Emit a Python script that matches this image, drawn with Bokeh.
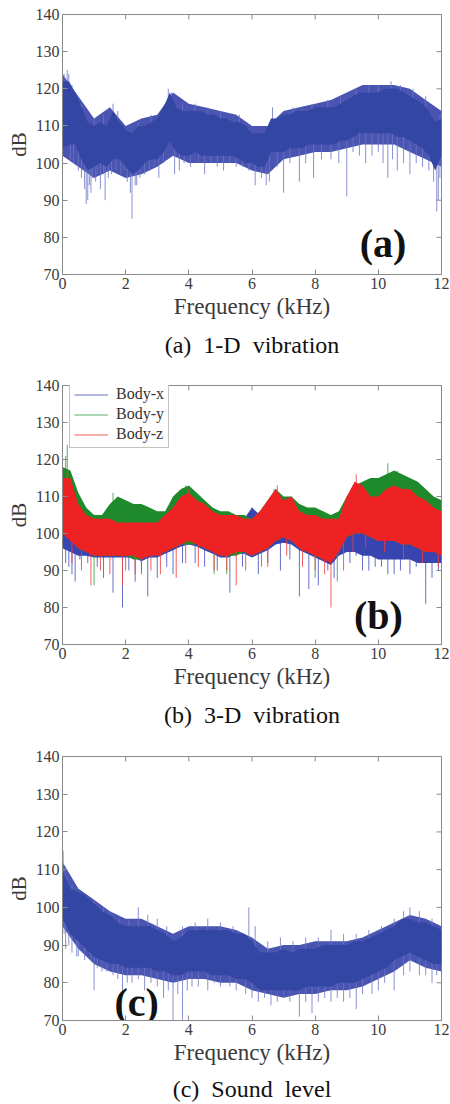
import numpy as np
from bokeh.plotting import figure
from bokeh.models import Legend, LegendItem, FixedTicker, Range1d, LinearAxis
from bokeh.layouts import column
from bokeh.core.properties import value
from bokeh.embed import file_html
from bokeh.resources import INLINE

SERIF = "Liberation Serif"

# ---------------- data ----------------
X_TICKS = [0, 2, 4, 6, 8, 10, 12]
Y_TICKS = [70, 80, 90, 100, 110, 120, 130, 140]

# Panel (a): 1-D vibration, dense core envelope every 0.2 kHz
fa = [0, 0.2, 0.4, 0.6, 0.8, 1.0, 1.2, 1.4, 1.6, 1.8, 2.0, 2.2, 2.4, 2.6, 2.8, 3.0, 3.2, 3.4, 3.6, 3.8,
      4.0, 4.2, 4.4, 4.6, 4.8, 5.0, 5.2, 5.4, 5.6, 5.8, 6.0, 6.2, 6.4, 6.6, 6.8, 7.0, 7.2, 7.4, 7.6, 7.8,
      8.0, 8.2, 8.4, 8.6, 8.8, 9.0, 9.2, 9.4, 9.6, 9.8, 10.0, 10.2, 10.4, 10.6, 10.8, 11.0, 11.2, 11.4,
      11.6, 11.8, 12.0]
a_upper = [122, 122, 119, 115, 111, 110, 111, 110, 114, 111, 109, 108, 110, 110, 111, 112, 115, 119, 115, 114,
           114, 114, 114, 113, 113, 112, 112, 111, 111, 110, 108, 108, 108, 112, 112, 113, 113, 114, 114, 114,
           115, 115, 115, 115, 116, 117, 118, 119, 119, 119, 119, 120, 120, 120, 119, 118, 117, 116, 114, 111, 112]
a_lower = [104, 105, 105, 101, 98, 99, 100, 99, 101, 101, 99, 97, 98, 100, 101, 101, 103, 106, 103, 102,
           102, 103, 102, 102, 102, 102, 102, 102, 101, 100, 100, 99, 99, 103, 103, 103, 104, 104, 104, 105,
           105, 105, 105, 105, 106, 106, 107, 108, 108, 108, 108, 108, 108, 107, 107, 106, 105, 104, 102, 98, 102]
# lighter fringe, every 0.5 kHz
fo = [0, 0.5, 1.0, 1.5, 2.0, 2.5, 3.0, 3.5, 4.0, 4.5, 5.0, 5.5, 6.0, 6.5, 7.0, 7.5, 8.0, 8.5, 9.0, 9.5,
      10.0, 10.5, 11.0, 11.5, 12.0]
a_outer_hi = [124, 118, 112, 115, 110, 112, 113, 119, 116, 115, 114, 113, 110, 110, 114, 115, 116, 117, 119, 121,
              121, 121, 120, 117, 114]
a_outer_lo = [102, 99, 96, 98, 96, 97, 99, 102, 100, 100, 100, 100, 98, 97, 101, 102, 103, 103, 104, 105,
              105, 105, 103, 101, 99]
a_down_f = [0.25, 0.35, 0.5, 0.6, 0.7, 0.75, 0.8, 0.85, 0.9, 0.95, 1.05, 1.1, 1.2, 1.3, 1.35, 1.45, 1.55, 1.7,
            1.85, 1.95, 2.05, 2.15, 2.2, 2.3, 2.35, 2.45, 2.6, 2.75, 2.9, 3.05, 3.2, 3.55, 3.7, 3.85, 4.05,
            4.3, 4.5, 4.7, 4.9, 5.1, 5.3, 5.5, 5.7, 5.9, 6.1, 6.3, 6.45, 6.55, 6.8, 7.0, 7.2, 7.5, 7.7, 7.95,
            8.2, 8.5, 8.75, 9.0, 9.2, 9.4, 9.6, 9.8, 10.0, 10.15, 10.3, 10.45, 10.6, 10.8, 11.0, 11.2, 11.4,
            11.6, 11.75, 11.85, 11.9, 11.95]
a_down_db = [101, 100, 98, 96, 93, 89, 90, 94, 92, 96, 95, 97, 93, 97, 90, 96, 97, 98,
             97, 98, 95, 92, 85, 94, 94, 96, 97, 98, 99, 96, 100, 97, 98, 100, 99,
             100, 97, 100, 99, 98, 100, 99, 99, 98, 94, 96, 94, 95, 99, 92, 100, 95, 100, 96,
             101, 101, 100, 91, 103, 102, 100, 102, 103, 100, 96, 101, 98, 100, 97, 100, 99,
             98, 95, 87, 90, 96]
a_up_f = [0.05, 0.15, 0.2, 0.3, 0.45, 0.6, 1.0, 1.3, 1.6, 1.75, 2.4, 2.8, 3.35, 3.45, 3.8, 4.2, 4.6, 5.0,
          5.6, 6.65, 7.3, 7.9, 8.4, 8.8, 9.3, 9.7, 10.0, 10.4, 10.7, 11.1, 11.5, 11.95]
a_up_db = [124, 125, 124, 121, 118, 116, 112, 113, 116, 114, 111, 113, 120, 119, 116, 116, 115, 114,
           113, 115, 115, 116, 117, 118, 120, 121, 121, 122, 121, 120, 118, 113]

# Panel (b): 3-D vibration, envelopes every 0.25 kHz
fb = [0, 0.25, 0.5, 0.75, 1.0, 1.25, 1.5, 1.75, 2.0, 2.25, 2.5, 2.75, 3.0, 3.25, 3.5, 3.75, 4.0, 4.25, 4.5,
      4.75, 5.0, 5.25, 5.5, 5.75, 6.0, 6.25, 6.5, 6.75, 7.0, 7.25, 7.5, 7.75, 8.0, 8.25, 8.5, 8.75, 9.0,
      9.25, 9.5, 9.75, 10.0, 10.25, 10.5, 10.75, 11.0, 11.25, 11.5, 11.75, 12.0]
bx_upper = [111, 112, 106, 103, 102, 102, 102, 102, 102, 101, 101, 102, 102, 103, 105, 108, 109, 107, 106,
            105, 104, 104, 104, 104, 107, 105, 107, 109, 107, 108, 108, 106, 104, 103, 102, 102, 104,
            106, 106, 105, 105, 106, 106, 106, 105, 105, 104, 103, 102]
bx_lower = [96, 95, 94, 94, 93.5, 93.5, 93.5, 93.5, 93.5, 93.5, 92.5, 93.5, 93.5, 94.5, 95.5, 96.5, 97, 96.5, 95.5,
            94.5, 93.5, 93.5, 94.5, 94.5, 93.5, 94.5, 95.5, 97, 97.5, 97, 95.5, 94.5, 93.5, 92.5, 91.5, 94, 95,
            95, 94, 94, 93, 93, 93, 93, 93, 92, 92, 92, 92]
by_upper = [118, 117, 111, 107, 105, 105, 108, 110, 109, 108, 108, 107, 106, 106, 110, 112, 113, 111, 109,
            107, 106, 106, 105, 105, 104, 106, 109, 112, 110, 110, 108, 107, 107, 106, 105, 106, 110,
            113, 114, 115, 115, 116, 117, 116, 115, 114, 112, 110, 109]
by_lower = [100, 99, 96, 95, 94, 94, 94, 94, 94, 93, 93, 94, 94, 95, 96, 97, 97, 97, 96,
            95, 94, 94, 94, 95, 94, 95, 96, 98, 99, 98, 96, 95, 94, 93, 93, 95, 99,
            100, 100, 99, 98, 98, 98, 97, 97, 96, 95, 95, 95]
bz_upper = [115, 115, 108, 105, 104, 104, 104, 103, 103, 103, 103, 103, 103, 105, 107, 110, 111, 109, 108,
            106, 105, 105, 105, 104, 104, 106, 109, 112, 109, 110, 106, 105, 105, 104, 104, 104, 110,
            114, 113, 110, 110, 112, 113, 112, 112, 110, 109, 107, 106]
bz_lower = [100, 98, 96, 95, 94, 94, 94, 94, 94, 94, 93, 94, 94, 95, 96, 97, 98, 97, 96,
            95, 94, 94, 95, 95, 94, 95, 96, 98, 99, 98, 96, 95, 94, 93, 92, 95, 99,
            100, 100, 99, 98, 98, 98, 97, 97, 96, 95, 95, 94]
bx_spike_f = [0.1, 0.2, 0.3, 0.4, 0.55, 0.8, 1.1, 1.3, 1.6, 1.9, 2.1, 2.3, 2.5, 2.7, 3.0, 3.3, 3.5, 3.8,
              4.2, 4.5, 4.9, 5.3, 5.7, 6.0, 6.2, 6.5, 6.9, 7.2, 7.5, 7.8, 8.1, 8.4, 8.6, 9.1, 9.3, 9.5,
              9.7, 9.9, 10.1, 10.3, 10.5, 10.7, 11.0, 11.2, 11.5, 11.7, 11.9]
bx_spike_db = [92, 91, 89, 87, 93, 92, 91, 88, 84, 80, 90, 87, 90, 83, 88, 91, 89, 92,
               92, 91, 90, 84, 91, 107, 89, 92, 90, 93, 83, 85, 86, 90, 88, 92, 94, 90,
               90, 91, 91, 89, 89, 90, 89, 91, 81, 88, 90]
by_spike_f = [0.1, 0.15, 1.0, 1.6, 3.9, 4.8, 5.2, 6.7, 8.0, 8.7, 10.3, 10.6]
by_spike_db = [121, 124, 86, 111, 113, 89, 89, 112, 88, 87, 119, 117]
bz_spike_f = [0.15, 0.3, 0.6, 0.9, 1.2, 1.5, 1.9, 2.0, 2.3, 2.5, 2.8, 3.1, 3.6, 3.9, 4.0, 4.3, 4.8, 5.2,
              5.5, 5.8, 6.3, 6.5, 6.8, 7.1, 7.6, 8.0, 8.3, 8.5, 8.9, 9.2, 9.3, 9.6, 10.2, 10.8, 11.4, 11.9]
bz_spike_db = [117, 92, 90, 86, 90, 89, 86, 90, 89, 89, 90, 89, 88, 92, 112, 91, 90, 90,
               86, 90, 91, 91, 113, 94, 91, 90, 89, 80, 90, 95, 116, 96, 95, 93, 92, 91]

# Panel (c): sound level, envelopes every 0.25 kHz
fc = fb
c_upper = [110, 105, 104, 103, 101, 99, 98, 96, 95, 95, 95, 95, 94, 93, 91, 92, 94, 94, 94,
           94, 94, 94, 93, 93, 91, 88, 88, 88, 89, 88, 89, 89, 89, 90, 90, 90, 90,
           91, 91, 92, 93, 94, 95, 97, 97, 96, 96, 95, 94]
c_lower = [97, 93, 91, 89, 87, 86, 85, 85, 84, 84, 84, 84, 83, 83, 82, 82, 83, 83, 83,
           82, 82, 82, 81, 81, 80, 78, 78, 78, 78, 78, 78, 79, 79, 79, 79, 80, 80,
           80, 81, 82, 83, 84, 86, 87, 88, 87, 86, 85, 85]
c_outer_hi = [112, 105, 102, 99, 97, 97, 95, 93, 95, 95, 95, 94, 92, 89, 90, 90, 91, 91, 91, 92,
              94, 96, 98, 97, 95]
c_outer_lo = [95, 89, 85, 83, 82, 82, 81, 80, 81, 81, 80, 80, 78, 77, 76, 77, 77, 78, 78, 79,
              81, 83, 86, 84, 83]
c_down_f = [0.05, 0.1, 0.2, 0.3, 0.45, 0.5, 0.7, 0.9, 1.0, 1.1, 1.25, 1.4, 1.6, 1.75, 1.9, 2.05, 2.2, 2.4,
            2.6, 2.8, 3.0, 3.2, 3.35, 3.5, 3.65, 3.8, 3.95, 4.1, 4.3, 4.6, 4.8, 5.0, 5.3, 5.5, 5.8, 6.0,
            6.2, 6.4, 6.6, 6.8, 7.0, 7.2, 7.5, 7.7, 7.9, 8.1, 8.3, 8.5, 8.7, 8.9, 9.1, 9.3, 9.5, 9.8,
            10.0, 10.2, 10.5, 10.8, 11.0, 11.3, 11.5, 11.7, 11.85, 12.0]
c_down_db = [93, 89, 90, 88, 87, 87, 86, 86, 78, 84, 83, 83, 82, 81, 77, 80, 80, 81,
             78, 80, 79, 76, 78, 70, 77, 70, 78, 79, 79, 78, 80, 79, 79, 78, 77, 76,
             75, 76, 74, 75, 76, 75, 71, 75, 72, 75, 76, 75, 76, 75, 76, 73, 77, 77,
             78, 80, 78, 82, 83, 82, 82, 80, 82, 82]
c_up_f = [0.02, 0.08, 0.15, 0.3, 0.5, 0.8, 1.0, 1.3, 1.5, 1.8, 2.1, 2.4, 2.7, 3.0, 3.3, 3.8, 4.2, 4.6,
          5.0, 5.4, 5.9, 6.1, 6.5, 6.9, 7.3, 7.7, 8.1, 8.5, 8.9, 9.3, 9.7, 10.1, 10.5, 10.8, 11.0, 11.3,
          11.7, 12.0]
c_up_db = [115, 111, 108, 106, 104, 103, 102, 100, 99, 97, 97, 100, 98, 97, 95, 95, 96, 97,
           96, 95, 100, 95, 91, 92, 91, 92, 92, 94, 93, 93, 94, 95, 97, 99, 100, 99,
           97, 96]

CAPTIONS = ["(a)\u00a0 1-D\u00a0 vibration",
            "(b)\u00a0 3-D\u00a0 vibration",
            "(c)\u00a0 Sound\u00a0 level"]
LEGEND_LABELS = ["Body-x", "Body-y", "Body-z"]

DARK_BLUE = "#3446a3"
FRINGE_BLUE = "#4955b0"
LIGHT_BLUE = "#6a74c6"
GREEN = "#1f8a2c"
RED = "#ee2222"
FRAME = "#8a8a8a"
TICK_LEN = 5  # px
LEFT, RIGHT = 62, 9
FRAME_W = 450 - LEFT - RIGHT


def make_fig(height, top, bottom, cap_text, cap_standoff):
    p = figure(width=450, height=height, x_range=Range1d(0, 12), y_range=Range1d(70, 140),
               output_backend="svg", toolbar_location=None,
               min_border_left=LEFT, min_border_right=RIGHT, min_border_top=top, min_border_bottom=bottom)
    p.background_fill_color = "white"
    p.outline_line_color = FRAME
    p.grid.visible = False
    for ax, ticks in ((p.xaxis[0], X_TICKS), (p.yaxis[0], Y_TICKS)):
        ax.ticker = FixedTicker(ticks=ticks)
        ax.major_tick_in = TICK_LEN
        ax.major_tick_out = 0
        ax.minor_tick_line_color = None
        ax.axis_line_color = FRAME
        ax.major_tick_line_color = FRAME
        ax.major_label_text_font = SERIF
        ax.major_label_text_font_size = "16px"
        ax.major_label_text_color = "#3a3a3a"
        ax.major_label_standoff = 3
        ax.axis_label_text_font = SERIF
        ax.axis_label_text_font_style = "normal"
        ax.axis_label_text_color = "#3a3a3a"
        ax.axis_label_standoff = 2
    p.xaxis.axis_label = "Frequency (kHz)"
    p.xaxis.axis_label_text_font_size = "23px"
    p.yaxis.axis_label = "dB"
    p.yaxis.axis_label_text_font_size = "21px"
    # caption under the panel: an empty axis that carries only its label
    cap = LinearAxis(ticker=FixedTicker(ticks=[]), axis_line_color=None, major_tick_line_color=None,
                     minor_tick_line_color=None, major_tick_in=0, major_tick_out=0, major_label_standoff=0,
                     axis_label=cap_text, axis_label_standoff=cap_standoff,
                     axis_label_text_font=SERIF, axis_label_text_font_size="24px",
                     axis_label_text_font_style="normal", axis_label_text_color="#111111")
    p.add_layout(cap, "below")
    # inward ticks on the top and right edges (mirror of the bottom/left ticks)
    frame_h = height - top - bottom
    dy = TICK_LEN * 70.0 / frame_h
    dx = TICK_LEN * 12.0 / FRAME_W
    p.segment(x0=X_TICKS, y0=[140] * len(X_TICKS), x1=X_TICKS, y1=[140 - dy] * len(X_TICKS),
              line_color=FRAME, line_width=1)
    p.segment(x0=[12] * len(Y_TICKS), y0=Y_TICKS, x1=[12 - dx] * len(Y_TICKS), y1=Y_TICKS,
              line_color=FRAME, line_width=1)
    return p


def band(p, f, lo, hi, color, alpha=1.0):
    return p.varea(x=f, y1=lo, y2=hi, fill_color=color, fill_alpha=alpha)


def spikes(p, f, tips, lo, hi, fband, color, alpha=0.8):
    mid = (np.interp(f, fband, lo) + np.interp(f, fband, hi)) / 2.0
    return p.segment(x0=f, y0=mid, x1=f, y1=tips, line_color=color, line_width=1, line_alpha=alpha)


def panel_label(p, x, y, text):
    p.text(x=[x], y=[y], text=[text], text_font=value(SERIF), text_font_style="bold",
           text_font_size="40px", text_align="center", text_baseline="middle", text_color="#111111")


# ---- panel (a)
pa = make_fig(360, 14, 84, CAPTIONS[0], 10)
band(pa, fo, a_outer_lo, a_outer_hi, FRINGE_BLUE)
spikes(pa, a_down_f, a_down_db, a_lower, a_upper, fa, LIGHT_BLUE)
spikes(pa, a_up_f, a_up_db, a_lower, a_upper, fa, LIGHT_BLUE)
band(pa, fa, a_lower, a_upper, DARK_BLUE)
panel_label(pa, 10.15, 78.3, "(a)")

# ---- panel (b)
PB_H, PB_TOP, PB_BOTTOM = 370, 25, 84
pb = make_fig(PB_H, PB_TOP, PB_BOTTOM, CAPTIONS[1], 10)
sx = spikes(pb, bx_spike_f, bx_spike_db, bx_lower, bx_upper, fb, "#4a55c0", 0.85)
band(pb, fb, bx_lower, bx_upper, "#3844b0")
sy = spikes(pb, by_spike_f, by_spike_db, by_lower, by_upper, fb, "#3aa04a", 0.85)
band(pb, fb, by_lower, by_upper, GREEN)
sz = spikes(pb, bz_spike_f, bz_spike_db, bz_lower, bz_upper, fb, "#f04040", 0.85)
band(pb, fb, bz_lower, bz_upper, RED)
panel_label(pb, 10.0, 77.8, "(b)")
leg = Legend(items=[LegendItem(label=LEGEND_LABELS[0], renderers=[sx]),
                    LegendItem(label=LEGEND_LABELS[1], renderers=[sy]),
                    LegendItem(label=LEGEND_LABELS[2], renderers=[sz])],
             location=(7, PB_H - PB_TOP - PB_BOTTOM - 65), label_text_font=SERIF,
             label_text_font_size="16px", label_text_color="#333333", glyph_width=34,
             glyph_height=17, label_height=17, spacing=2, padding=4, margin=0, label_standoff=8,
             border_line_color="#888888", background_fill_alpha=1.0)
pb.add_layout(leg, "center")

# ---- panel (c)
pc = make_fig(374, 26, 81, CAPTIONS[2], 8)
band(pc, fo, c_outer_lo, c_outer_hi, FRINGE_BLUE)
spikes(pc, c_down_f, c_down_db, c_lower, c_upper, fc, LIGHT_BLUE)
spikes(pc, c_up_f, c_up_db, c_lower, c_upper, fc, LIGHT_BLUE)
band(pc, fc, c_lower, c_upper, DARK_BLUE)
panel_label(pc, 2.35, 74.8, "(c)")

layout = column(pa, pb, pc, spacing=0)
open("out.html", "w").write(file_html(layout, INLINE))
